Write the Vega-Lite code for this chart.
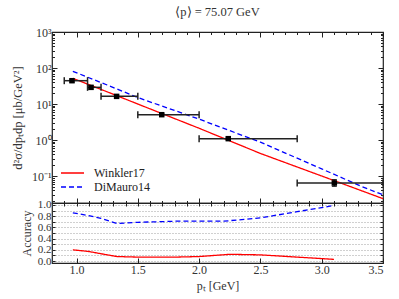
{
  "$schema": "https://vega.github.io/schema/vega-lite/v6.json",
  "padding": {"left": 10, "top": 4, "right": 16, "bottom": 5},
  "bounds": "flush",
  "config": {
    "font": "Liberation Serif",
    "view": {"stroke": "#222", "strokeWidth": 1.2},
    "axis": {"labelFont": "Liberation Serif", "titleFont": "Liberation Serif", "labelFontSize": 12, "titleFontSize": 12, "labelColor": "#333", "titleColor": "#333", "titleFontWeight": "normal", "domain": false, "tickColor": "#222", "grid": false},
    "concat": {"spacing": 0}
  },
  "datasets": {
    "models": [
      {"model": "Winkler17", "pt": 0.97, "xs": 51.8},
      {"model": "Winkler17", "pt": 1.25, "xs": 21.8},
      {"model": "Winkler17", "pt": 1.5, "xs": 9.98},
      {"model": "Winkler17", "pt": 2.0, "xs": 2.12},
      {"model": "Winkler17", "pt": 2.5, "xs": 0.423},
      {"model": "Winkler17", "pt": 3.0, "xs": 0.1},
      {"model": "Winkler17", "pt": 3.5, "xs": 0.0235},
      {"model": "DiMauro14", "pt": 0.97, "xs": 81},
      {"model": "DiMauro14", "pt": 1.25, "xs": 33.7},
      {"model": "DiMauro14", "pt": 1.5, "xs": 15.1},
      {"model": "DiMauro14", "pt": 2.0, "xs": 3.8},
      {"model": "DiMauro14", "pt": 2.5, "xs": 0.87},
      {"model": "DiMauro14", "pt": 3.0, "xs": 0.158},
      {"model": "DiMauro14", "pt": 3.32, "xs": 0.052},
      {"model": "DiMauro14", "pt": 3.5, "xs": 0.03}
    ],
    "meas": [
      {"x": 0.963, "xlo": 0.9, "xhi": 1.09, "y": 44.4, "ylo": 40.5, "yhi": 48.5},
      {"x": 1.118, "xlo": 1.09, "xhi": 1.2, "y": 29.0, "ylo": 26.0, "yhi": 32.5},
      {"x": 1.327, "xlo": 1.2, "xhi": 1.5, "y": 16.3, "ylo": 15.2, "yhi": 17.5},
      {"x": 1.695, "xlo": 1.5, "xhi": 2.0, "y": 5.05, "ylo": 4.75, "yhi": 5.4},
      {"x": 2.238, "xlo": 2.0, "xhi": 2.8, "y": 1.09, "ylo": 1.0, "yhi": 1.19},
      {"x": 3.103, "xlo": 2.8, "xhi": 3.5, "y": 0.064, "ylo": 0.052, "yhi": 0.079}
    ],
    "acc": [
      {"model": "Winkler17", "pt": 0.97, "acc": 0.2},
      {"model": "Winkler17", "pt": 1.1, "acc": 0.17},
      {"model": "Winkler17", "pt": 1.2, "acc": 0.13},
      {"model": "Winkler17", "pt": 1.33, "acc": 0.08},
      {"model": "Winkler17", "pt": 1.5, "acc": 0.07},
      {"model": "Winkler17", "pt": 1.8, "acc": 0.07},
      {"model": "Winkler17", "pt": 2.0, "acc": 0.08},
      {"model": "Winkler17", "pt": 2.25, "acc": 0.12},
      {"model": "Winkler17", "pt": 2.5, "acc": 0.11},
      {"model": "Winkler17", "pt": 2.8, "acc": 0.07},
      {"model": "Winkler17", "pt": 3.1, "acc": 0.03},
      {"model": "DiMauro14", "pt": 0.97, "acc": 0.86},
      {"model": "DiMauro14", "pt": 1.1, "acc": 0.81},
      {"model": "DiMauro14", "pt": 1.2, "acc": 0.76},
      {"model": "DiMauro14", "pt": 1.33, "acc": 0.67},
      {"model": "DiMauro14", "pt": 1.5, "acc": 0.69},
      {"model": "DiMauro14", "pt": 1.8, "acc": 0.71},
      {"model": "DiMauro14", "pt": 2.2, "acc": 0.71},
      {"model": "DiMauro14", "pt": 2.5, "acc": 0.77},
      {"model": "DiMauro14", "pt": 2.8, "acc": 0.88},
      {"model": "DiMauro14", "pt": 3.1, "acc": 0.99}
    ]
  },
  "vconcat": [
    {
      "width": 331,
      "height": 171,
      "title": {"text": "⟨p⟩ = 75.07 GeV", "fontSize": 12.5, "fontWeight": "normal", "color": "#333", "offset": 8, "font": "Liberation Serif"},
      "layer": [
        {
          "data": {"name": "models"},
          "mark": {"type": "line", "strokeWidth": 1.3, "clip": true},
          "encoding": {
            "x": {"field": "pt", "type": "quantitative", "scale": {"domain": [0.8, 3.5], "nice": false, "zero": false}, "axis": {"orient": "bottom", "values": [1, 1.5, 2, 2.5, 3, 3.5], "labels": false, "tickSize": -5, "title": null}},
            "y": {"field": "xs", "type": "quantitative", "scale": {"type": "log", "domain": [0.0178, 1000], "nice": false}, "axis": {"orient": "left", "values": [0.1, 1, 10, 100, 1000], "labelExpr": "datum.value >= 999 ? '10³' : datum.value >= 99 ? '10²' : datum.value >= 9 ? '10¹' : datum.value >= 0.9 ? '10⁰' : '10⁻¹'", "tickSize": -5, "labelPadding": 6, "title": "d²σ/dpₜdp [μb/GeV²]", "titlePadding": 7, "titleFontSize": 12.5}},
            "color": {"field": "model", "type": "nominal", "scale": {"domain": ["Winkler17", "DiMauro14"], "range": ["#ff0000", "#0000ff"]}, "legend": {"title": null, "orient": "none", "legendX": 8, "legendY": 134, "symbolType": "stroke", "symbolSize": 529, "clipHeight": 14, "symbolStrokeWidth": 1.5, "labelFontSize": 12, "labelColor": "#222", "rowPadding": 0, "labelOffset": 9, "labelFont": "Liberation Serif"}},
            "strokeDash": {"field": "model", "type": "nominal", "scale": {"domain": ["Winkler17", "DiMauro14"], "range": [[1, 0], [5, 3]]}, "legend": {"title": null, "orient": "none", "legendX": 8, "legendY": 134, "symbolType": "stroke", "symbolSize": 529, "clipHeight": 14, "symbolStrokeWidth": 1.5, "labelFontSize": 12, "labelColor": "#222", "rowPadding": 0, "labelOffset": 9, "labelFont": "Liberation Serif"}}
          }
        },
        {
          "data": {"name": "meas"},
          "mark": {"type": "rule", "color": "#222", "strokeWidth": 1.5},
          "encoding": {
            "x": {"field": "xlo", "type": "quantitative", "axis": null},
            "x2": {"field": "xhi"},
            "y": {"field": "y", "type": "quantitative", "axis": null}
          }
        },
        {
          "data": {"name": "meas"},
          "mark": {"type": "rule", "color": "#222", "strokeWidth": 1.5},
          "encoding": {
            "x": {"field": "x", "type": "quantitative", "axis": null},
            "y": {"field": "ylo", "type": "quantitative", "axis": null},
            "y2": {"field": "yhi"}
          }
        },
        {
          "data": {"name": "meas"},
          "mark": {"type": "tick", "orient": "vertical", "color": "#222", "size": 7, "thickness": 1.5, "opacity": 1},
          "encoding": {
            "x": {"field": "xlo", "type": "quantitative", "axis": null},
            "y": {"field": "y", "type": "quantitative", "axis": null}
          }
        },
        {
          "data": {"name": "meas"},
          "mark": {"type": "tick", "orient": "vertical", "color": "#222", "size": 7, "thickness": 1.5, "opacity": 1},
          "encoding": {
            "x": {"field": "xhi", "type": "quantitative", "axis": null},
            "y": {"field": "y", "type": "quantitative", "axis": null}
          }
        },
        {
          "data": {"name": "meas"},
          "mark": {"type": "tick", "orient": "horizontal", "color": "#222", "size": 5, "thickness": 1.3, "opacity": 1},
          "encoding": {
            "x": {"field": "x", "type": "quantitative", "axis": null},
            "y": {"field": "ylo", "type": "quantitative", "axis": null}
          }
        },
        {
          "data": {"name": "meas"},
          "mark": {"type": "tick", "orient": "horizontal", "color": "#222", "size": 5, "thickness": 1.3, "opacity": 1},
          "encoding": {
            "x": {"field": "x", "type": "quantitative", "axis": null},
            "y": {"field": "yhi", "type": "quantitative", "axis": null}
          }
        },
        {
          "data": {"name": "meas"},
          "mark": {"type": "point", "shape": "square", "filled": true, "color": "#000", "size": 30, "opacity": 1},
          "encoding": {
            "x": {"field": "x", "type": "quantitative", "axis": null},
            "y": {"field": "y", "type": "quantitative", "axis": null}
          }
        },
        {
          "data": {"name": "meas"},
          "mark": {"type": "point", "opacity": 0},
          "encoding": {
            "x": {"field": "x", "type": "quantitative", "axis": {"orient": "top", "values": [1, 1.5, 2, 2.5, 3, 3.5], "labels": false, "tickSize": -5, "title": null}},
            "y": {"field": "y", "type": "quantitative", "axis": {"orient": "left", "values": [0.02, 0.03, 0.04, 0.05, 0.06, 0.07, 0.08, 0.09, 0.2, 0.3, 0.4, 0.5, 0.6, 0.7, 0.8, 0.9, 2, 3, 4, 5, 6, 7, 8, 9, 20, 30, 40, 50, 60, 70, 80, 90, 200, 300, 400, 500, 600, 700, 800, 900], "labels": false, "tickSize": -2.5, "title": null}}
          }
        },
        {
          "data": {"name": "meas"},
          "mark": {"type": "point", "opacity": 0},
          "encoding": {
            "x": {"field": "x", "type": "quantitative", "axis": {"orient": "bottom", "values": [0.9, 1.1, 1.2, 1.3, 1.4, 1.6, 1.7, 1.8, 1.9, 2.1, 2.2, 2.3, 2.4, 2.6, 2.7, 2.8, 2.9, 3.1, 3.2, 3.3, 3.4], "labels": false, "tickSize": -2.5, "title": null}},
            "y": {"field": "y", "type": "quantitative", "axis": {"orient": "right", "values": [0.1, 1, 10, 100, 1000], "labels": false, "tickSize": -5, "title": null}}
          }
        },
        {
          "data": {"name": "meas"},
          "mark": {"type": "point", "opacity": 0},
          "encoding": {
            "x": {"field": "x", "type": "quantitative", "axis": {"orient": "top", "values": [0.9, 1.1, 1.2, 1.3, 1.4, 1.6, 1.7, 1.8, 1.9, 2.1, 2.2, 2.3, 2.4, 2.6, 2.7, 2.8, 2.9, 3.1, 3.2, 3.3, 3.4], "labels": false, "tickSize": -2.5, "title": null}},
            "y": {"field": "y", "type": "quantitative", "axis": {"orient": "right", "values": [0.02, 0.03, 0.04, 0.05, 0.06, 0.07, 0.08, 0.09, 0.2, 0.3, 0.4, 0.5, 0.6, 0.7, 0.8, 0.9, 2, 3, 4, 5, 6, 7, 8, 9, 20, 30, 40, 50, 60, 70, 80, 90, 200, 300, 400, 500, 600, 700, 800, 900], "labels": false, "tickSize": -2.5, "title": null}}
          }
        }
      ],
      "resolve": {"axis": {"x": "independent", "y": "independent"}}
    },
    {
      "width": 331,
      "height": 60,
      "layer": [
        {
          "data": {"name": "acc"},
          "mark": {"type": "line", "strokeWidth": 1.3, "clip": true},
          "encoding": {
            "x": {"field": "pt", "type": "quantitative", "scale": {"domain": [0.8, 3.5], "nice": false, "zero": false}, "axis": {"orient": "bottom", "values": [1, 1.5, 2, 2.5, 3, 3.5], "format": ".1f", "tickSize": -5, "labelPadding": 6, "title": "pₜ [GeV]", "titlePadding": 5}},
            "y": {"field": "acc", "type": "quantitative", "scale": {"domain": [-0.035, 1.035], "nice": false, "zero": false}, "axis": {"orient": "left", "values": [0, 0.1, 0.2, 0.3, 0.4, 0.5, 0.6, 0.7, 0.8, 0.9, 1], "labelExpr": "round(datum.value * 10) % 2 == 0 ? format(datum.value, '.1f') : ''", "labelOverlap": false, "labelFontSize": 11, "grid": true, "gridDash": [1, 2], "gridColor": "#888", "gridWidth": 0.8, "tickSize": -3, "labelPadding": 4, "title": "Accuracy", "titlePadding": 4}},
            "color": {"field": "model", "type": "nominal", "scale": {"domain": ["Winkler17", "DiMauro14"], "range": ["#ff0000", "#0000ff"]}, "legend": null},
            "strokeDash": {"field": "model", "type": "nominal", "scale": {"domain": ["Winkler17", "DiMauro14"], "range": [[1, 0], [5, 3]]}, "legend": null}
          }
        },
        {
          "data": {"name": "acc"},
          "mark": {"type": "point", "opacity": 0},
          "encoding": {
            "x": {"field": "pt", "type": "quantitative", "axis": {"orient": "top", "values": [0.9, 1, 1.1, 1.2, 1.3, 1.4, 1.5, 1.6, 1.7, 1.8, 1.9, 2, 2.1, 2.2, 2.3, 2.4, 2.5, 2.6, 2.7, 2.8, 2.9, 3, 3.1, 3.2, 3.3, 3.4], "labels": false, "tickSize": -3, "title": null}},
            "y": {"field": "acc", "type": "quantitative", "axis": {"orient": "right", "values": [0, 0.1, 0.2, 0.3, 0.4, 0.5, 0.6, 0.7, 0.8, 0.9, 1], "labels": false, "tickSize": -3, "title": null}}
          }
        }
      ],
      "resolve": {"axis": {"x": "independent", "y": "independent"}}
    }
  ],
  "resolve": {"scale": {"color": "independent", "strokeDash": "independent"}, "legend": {"color": "independent", "strokeDash": "independent"}}
}
